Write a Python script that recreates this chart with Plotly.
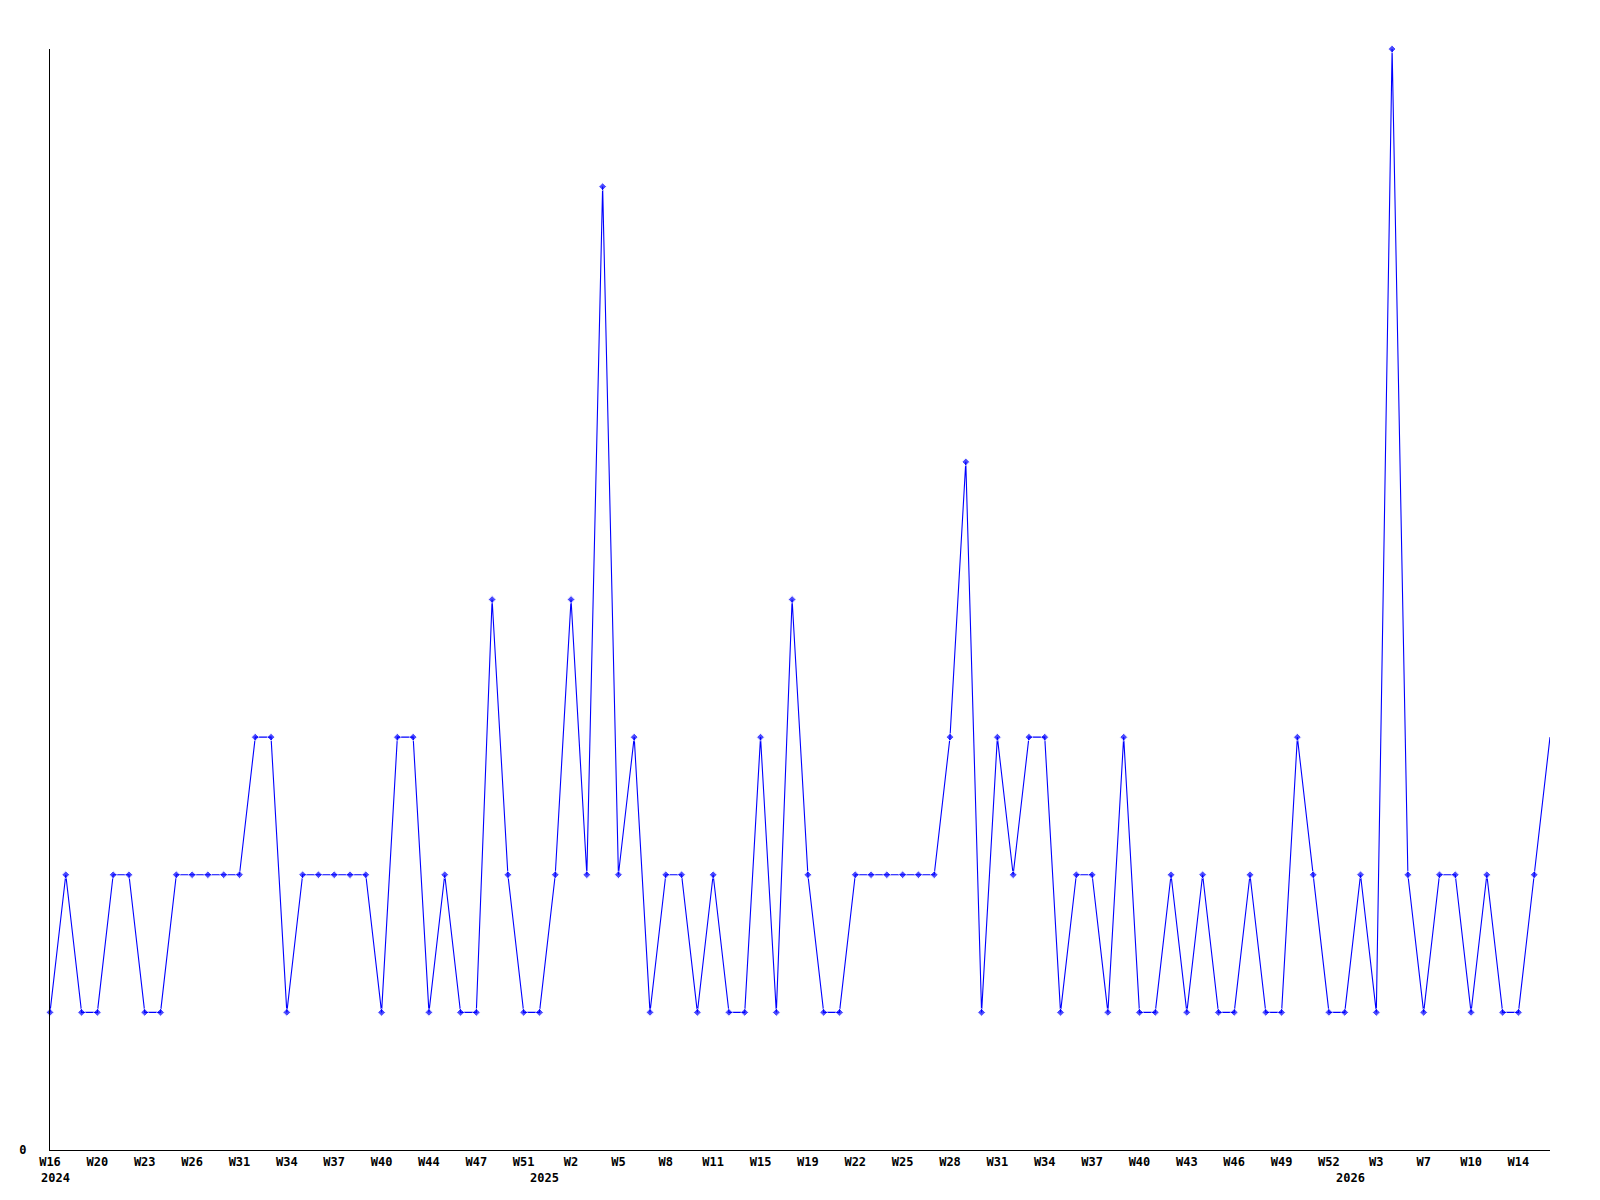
import plotly.graph_objects as go

values = [1, 2, 1, 1, 2, 2, 1, 1, 2, 2, 2, 2, 2, 3, 3, 1, 2, 2, 2, 2,
          2, 1, 3, 3, 1, 2, 1, 1, 4, 2, 1, 1, 2, 4, 2, 7, 2, 3, 1, 2,
          2, 1, 2, 1, 1, 3, 1, 4, 2, 1, 1, 2, 2, 2, 2, 2, 2, 3, 5, 1,
          3, 2, 3, 3, 1, 2, 2, 1, 3, 1, 1, 2, 1, 2, 1, 1, 2, 1, 1, 3,
          2, 1, 1, 2, 1, 8, 2, 1, 2, 2, 1, 2, 1, 1, 2, 3]

week_labels = ["W16", "W20", "W23", "W26", "W31", "W34", "W37", "W40", "W44", "W47",
               "W51", "W2", "W5", "W8", "W11", "W15", "W19", "W22", "W25", "W28",
               "W31", "W34", "W37", "W40", "W43", "W46", "W49", "W52", "W3", "W7",
               "W10", "W14"]
label_step = 3

year_labels = ["2024", "2025", "2026"]
year_index = [0, 31, 82]

x = list(range(len(values)))
tick_pos = [i * label_step for i in range(len(week_labels))]
marker_sizes = [6] * (len(values) - 1) + [0]

FONT = "DejaVu Sans Mono"
FS = 12

fig = go.Figure()
fig.add_trace(go.Scatter(
    x=x, y=values, mode="lines+markers",
    line=dict(color="#0000FF", width=1.1),
    marker=dict(symbol="diamond", size=marker_sizes, color="#0000FF"),
    cliponaxis=False, hoverinfo="skip", showlegend=False,
))

for lab, idx in zip(year_labels, year_index):
    fig.add_annotation(
        x=idx, y=0, xref="x", yref="y", text=lab, showarrow=False,
        xanchor="left", yanchor="top", xshift=-11, yshift=-19,
        font=dict(family=FONT, size=FS, color="black", weight="bold"),
    )

fig.update_layout(
    width=1600, height=1200,
    margin=dict(l=42, r=58, t=41, b=58, pad=0),
    paper_bgcolor="white", plot_bgcolor="white",
    font=dict(family=FONT, size=FS, color="black", weight="bold"),
)
fig.update_xaxes(
    range=[0, len(values) - 1], tickmode="array", tickvals=tick_pos, ticktext=week_labels,
    showgrid=False, zeroline=False, showline=True, linecolor="black", linewidth=1,
    ticks="outside", ticklen=1, tickcolor="rgba(0,0,0,0)",
    tickfont=dict(family=FONT, size=FS, color="black", weight="bold"),
)
fig.update_yaxes(
    range=[0, 8], tickmode="array", tickvals=[0], ticktext=["0"],
    showgrid=False, zeroline=False, showline=True, linecolor="black", linewidth=1,
    ticks="outside", ticklen=20, tickcolor="rgba(0,0,0,0)",
    tickfont=dict(family=FONT, size=FS, color="black", weight="bold"),
)

fig.write_html("out.html")
